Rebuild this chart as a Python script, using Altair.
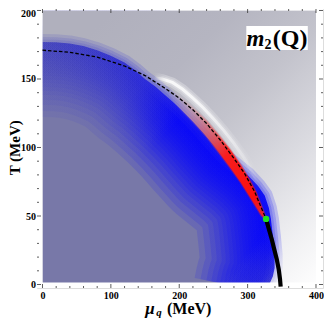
import altair as alt
import pandas as pd

# ---------------- values ----------------
mu_ticks = [0, 100, 200, 300, 400]
T_ticks = [0, 50, 100, 150, 200]
mu_minor = [20, 40, 60, 80, 120, 140, 160, 180, 220, 240, 260, 280, 320, 340, 360, 380]
T_minor = [10, 20, 30, 40, 60, 70, 80, 90, 110, 120, 130, 140, 160, 170, 180, 190]

# extent of the density plot
region_mu = [0, 400]
region_T = [1.5, 200]

# crossover (dashed) line
dash_mu = [0, 40, 80, 120, 150, 180, 200, 220, 240, 260, 280, 295, 310, 320, 327]
dash_T = [171, 169.5, 166, 159.5, 152.5, 143, 136, 127.5, 117.5, 105.5, 92, 81.5, 68, 56, 47.9]

# first-order line
first_mu = [327, 331, 335.3, 339, 342.5, 345.5, 347.3, 348.3]
first_T = [47.9, 40.5, 33, 25.5, 18.7, 11, 4.3, -1.5]

# critical end point
cep_mu = [327]
cep_T = [47.9]

# outer edge of the blue region (from the top-left round to below the bottom edge)
blue_mu = [0, 20, 40, 60, 80, 100, 120, 135, 150, 165, 180, 190, 200, 210, 220, 232, 245, 255,
           265, 275, 285, 300, 315, 325, 331, 334, 337, 339.5, 339.5, 337, 333, 330]
blue_T = [177, 176.8, 176, 174, 171, 167, 162, 156.5, 150, 144.5, 138, 133.5, 129, 124, 119, 112.5,
          105, 99.5, 94, 90, 86, 80, 72, 65, 56, 48, 35, 22, 12, 6, 1.5, -6]

# red crescent
red_mu = [185, 200, 220, 240, 260, 275, 290, 302, 312, 320, 326]
red_lo = [138, 129, 119, 108, 95, 85, 74.5, 65, 57, 50.5, 47.5]
red_hi = [143, 137.5, 129, 119.5, 107.5, 98, 87, 77, 67.5, 57.5, 49.5]

# white ridge outside the crescent
halo_mu = [163, 175, 190, 205, 220, 235, 250, 265, 280, 295, 307, 318]
halo_T = [151, 150, 147.5, 142.5, 136, 129, 121, 112.5, 103, 92.5, 82, 71]

# ---------------- layout ----------------
W, H = 286, 279
X_DOM = [-8.04, 410.24]
Y_DOM = [-2.55, 201.09]

xs = alt.Scale(domain=X_DOM, nice=False, zero=False)
ys = alt.Scale(domain=Y_DOM, nice=False, zero=False)
FONT = "Liberation Serif"
xaxis = alt.Axis(values=mu_ticks, title=None, ticks=False, domain=False, grid=False,
                 labelFont=FONT, labelFontWeight="bold", labelFontSize=10,
                 labelColor="black", labelPadding=2, labelFlush=False)
yaxis = alt.Axis(values=T_ticks, title=None, ticks=False, domain=False, grid=False,
                 labelFont=FONT, labelFontWeight="bold", labelFontSize=10,
                 labelColor="black", labelPadding=1.5, labelFlush=False,
                 labelBaseline=alt.ExprRef(expr="datum.value == 200 ? 'top' : 'middle'"),
                 labelOffset=alt.ExprRef(expr="datum.value == 200 ? -2 : 0"))


def X(f):
    return alt.X(f, type="quantitative", scale=xs, axis=xaxis)


def Y(f):
    return alt.Y(f, type="quantitative", scale=ys, axis=yaxis)


def linear(stops, x1=0, y1=0, x2=1, y2=1):
    return alt.LinearGradient(gradient="linear",
                              stops=[alt.GradientStop(offset=o, color=c) for o, c in stops],
                              x1=x1, y1=y1, x2=x2, y2=y2)


one = pd.DataFrame({"a": [0]})
layers = []

bg_grad = linear([
    (0.0, "#b0b0bd"), (0.25, "#b5b5c1"), (0.45, "#c3c3cc"), (0.65, "#d9d9df"),
    (0.85, "#f1f1f3"), (1.0, "#ffffff")], 0.15, 0.1, 1, 1)

# background (outside the blue region)
bg = pd.DataFrame({"m0": [region_mu[0]], "m1": [region_mu[1]], "t0": [region_T[0]], "t1": [region_T[1]]})
layers.append(alt.Chart(bg).mark_rect(fill=bg_grad).encode(
    x=X("m0"), x2="m1", y=Y("t0"), y2="t1"))

blue = pd.DataFrame({"mu": blue_mu, "T": blue_T, "i": list(range(len(blue_mu)))})

# lavender interior
layers.append(alt.Chart(blue).mark_area(orient="horizontal", clip=True, fill="#7878a8").encode(
    y=Y("T"), x=X("mu"), x2=alt.datum(0)))

# blue shading that grows towards the edge (stacked translucent strokes along the edge)
glow_in = linear([(0.0, "rgba(55,55,195,0.06)"), (0.3, "rgba(30,30,225,0.09)"),
                  (0.45, "rgba(0,0,255,0.13)"), (0.86, "rgba(0,0,255,0.13)"),
                  (0.95, "rgba(20,20,235,0.09)"), (1.0, "rgba(40,40,210,0.05)")], 0, 0, 1, 1)
for wdt in [150, 138, 126, 116, 106, 98, 90, 82, 75, 68, 62, 56, 50, 44, 38, 32, 26, 20, 14, 8]:
    layers.append(alt.Chart(blue).mark_line(stroke=glow_in, strokeWidth=wdt, clip=True,
                                            strokeJoin="round", strokeCap="butt").encode(
        x=X("mu"), y=Y("T"), order="i"))

# lavender fade along the bottom
low = blue[blue.T <= 22]
layers.append(alt.Chart(low).mark_area(orient="horizontal", clip=True, fill=linear([
    (0, "rgba(120,120,168,0)"), (0.45, "rgba(120,120,168,0.3)"), (0.75, "rgba(122,122,170,0.7)"),
    (1, "rgba(124,124,170,0.85)")], 0, 0, 0, 1)).encode(y=Y("T"), x=X("mu"), x2=alt.datum(0)))

# outside of the blue region (same background shading, hides the stroke overflow)
comp = pd.DataFrame({"mu": blue_mu + [0], "T": blue_T + [region_T[1]]})
layers.append(alt.Chart(comp).mark_area(orient="horizontal", clip=True, fill=bg_grad).encode(
    y=Y("T"), x=X("mu"), x2=alt.datum(region_mu[1])))

# soft rim of the blue region
glow_out = linear([(0.0, "rgba(70,70,190,0.16)"), (0.4, "rgba(40,40,230,0.2)"),
                   (0.9, "rgba(20,20,245,0.2)"), (1.0, "rgba(120,120,200,0.05)")], 0, 0, 1, 1)
for wdt in [16, 10, 5]:
    layers.append(alt.Chart(blue).mark_line(stroke=glow_out, strokeWidth=wdt, clip=True,
                                            strokeJoin="round").encode(
        x=X("mu"), y=Y("T"), order="i"))

# red crescent
red = pd.DataFrame({"mu": red_mu, "lo": red_lo, "hi": red_hi})
red_grad = linear([(0, "rgba(190,165,175,0)"), (0.2, "rgba(205,140,150,0.5)"),
                   (0.4, "rgba(228,80,85,0.8)"), (0.55, "rgba(248,30,30,1)"),
                   (0.85, "rgba(250,15,15,1)"), (1, "rgba(240,40,40,0.9)")], 0, 0, 1, 1)
layers.append(alt.Chart(red).mark_area(fill=red_grad, stroke=red_grad, strokeWidth=2,
                                       strokeOpacity=0.4).encode(
    x=X("mu"), y=Y("lo"), y2="hi"))

# white ridge
halo = pd.DataFrame({"mu": halo_mu, "T": halo_T})
halo_grad = linear([(0, "rgba(255,255,255,0)"), (0.12, "rgba(255,255,255,0.95)"),
                    (0.4, "rgba(255,255,255,0.9)"), (0.75, "rgba(255,255,255,0.45)"),
                    (1, "rgba(255,255,255,0)")], 0, 0, 1, 0)
for wdt, op in [(10, 0.3), (6, 0.3), (3, 0.85)]:
    layers.append(alt.Chart(halo).mark_line(stroke=halo_grad, strokeWidth=wdt, opacity=op,
                                            strokeCap="round").encode(x=X("mu"), y=Y("T")))

# white margins around the density region
strips = pd.DataFrame({
    "m0": [X_DOM[0], X_DOM[0], X_DOM[0], region_mu[1]],
    "m1": [X_DOM[1], X_DOM[1], region_mu[0], X_DOM[1]],
    "t0": [Y_DOM[0], region_T[1], Y_DOM[0], Y_DOM[0]],
    "t1": [region_T[0], Y_DOM[1], Y_DOM[1], Y_DOM[1]]})
layers.append(alt.Chart(strips).mark_rect(fill="white").encode(
    x=X("m0"), x2="m1", y=Y("t0"), y2="t1"))

# lines and point
layers.append(alt.Chart(pd.DataFrame({"mu": dash_mu, "T": dash_T})).mark_line(
    color="black", strokeWidth=1.3, strokeDash=[3.5, 2]).encode(x=X("mu"), y=Y("T")))
layers.append(alt.Chart(pd.DataFrame({"mu": first_mu, "T": first_T})).mark_line(
    color="black", strokeWidth=4.2).encode(x=X("mu"), y=Y("T")))
layers.append(alt.Chart(pd.DataFrame({"mu": cep_mu, "T": cep_T})).mark_point(
    filled=True, fill="#22dd22", size=42, opacity=1, strokeWidth=0).encode(x=X("mu"), y=Y("T")))


# inward frame ticks
def xticks(vals, ln):
    d = pd.DataFrame({"mu": vals})
    return [alt.Chart(d).mark_rule(color="#333", strokeWidth=0.8).encode(
                x=X("mu"), y=alt.value(H), y2=alt.value(H - ln)),
            alt.Chart(d).mark_rule(color="#333", strokeWidth=0.8).encode(
                x=X("mu"), y=alt.value(0), y2=alt.value(ln))]


def yticks(vals, ln):
    d = pd.DataFrame({"T": vals})
    return [alt.Chart(d).mark_rule(color="#333", strokeWidth=0.8).encode(
                y=Y("T"), x=alt.value(0), x2=alt.value(ln)),
            alt.Chart(d).mark_rule(color="#333", strokeWidth=0.8).encode(
                y=Y("T"), x=alt.value(W), x2=alt.value(W - ln))]


layers += xticks(mu_ticks, 4) + xticks(mu_minor, 2) + yticks(T_ticks, 4) + yticks(T_minor, 2)

# label box m2(Q)
layers.append(alt.Chart(one).mark_rect(fill="white").encode(
    x=alt.value(209.3), x2=alt.value(270.8), y=alt.value(17), y2=alt.value(41)))
layers.append(alt.Chart(one).mark_text(text="m", font=FONT, fontSize=23, fontWeight="bold",
                                      fontStyle="italic", align="left", baseline="alphabetic",
                                      color="black").encode(x=alt.value(209.6), y=alt.value(36.8)))
layers.append(alt.Chart(one).mark_text(text="2", font=FONT, fontSize=14, fontWeight="bold",
                                      align="left", baseline="alphabetic",
                                      color="black").encode(x=alt.value(227.6), y=alt.value(40.4)))
layers.append(alt.Chart(one).mark_text(text="(Q)", font=FONT, fontSize=24, fontWeight="bold",
                                      align="right", baseline="alphabetic",
                                      color="black").encode(x=alt.value(270.4), y=alt.value(36.8)))

# axis titles
layers.append(alt.Chart(one).mark_text(text="T (MeV)", font=FONT, fontSize=15, fontWeight="bold",
                                      angle=270, align="center", baseline="alphabetic",
                                      color="black").encode(x=alt.value(-17.5), y=alt.value(138.8)))
layers.append(alt.Chart(one).mark_text(text="\u03bc", font=FONT, fontSize=17, fontWeight="bold",
                                      fontStyle="italic", align="left", baseline="alphabetic",
                                      color="black").encode(x=alt.value(108.3), y=alt.value(305)))
layers.append(alt.Chart(one).mark_text(text="q", font=FONT, fontSize=11, fontWeight="bold",
                                      fontStyle="italic", align="left", baseline="alphabetic",
                                      color="black").encode(x=alt.value(119.2), y=alt.value(307.3)))
layers.append(alt.Chart(one).mark_text(text="(MeV)", font=FONT, fontSize=16, fontWeight="bold",
                                      align="left", baseline="alphabetic",
                                      color="black").encode(x=alt.value(130), y=alt.value(305)))

chart = alt.layer(*layers).properties(
    width=W, height=H,
    padding={"left": 29, "top": 1, "right": 1, "bottom": 31},
    autosize=alt.AutoSizeParams(type="none"),
).configure_view(stroke="black", strokeWidth=1.2).configure(background="white")

chart.save("out.html", embed_options={"renderer": "svg", "actions": False})
